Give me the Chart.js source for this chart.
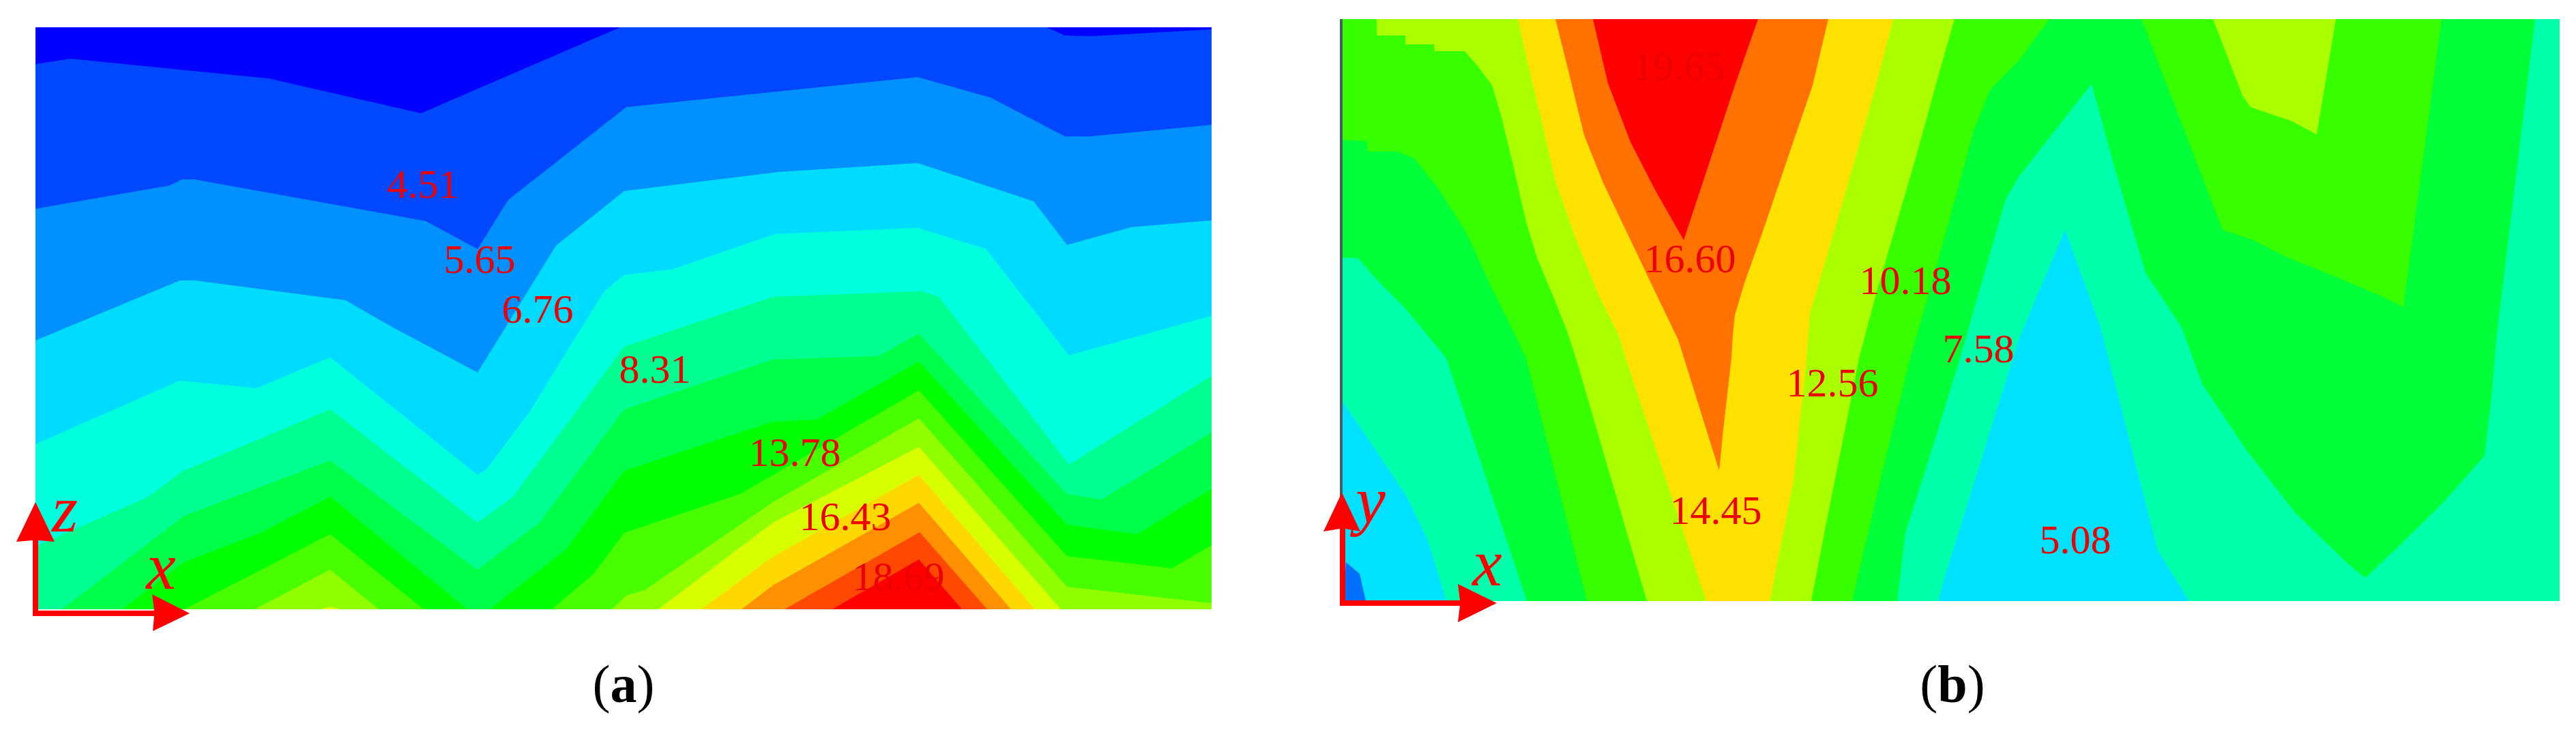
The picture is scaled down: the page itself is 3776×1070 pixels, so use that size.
<!DOCTYPE html>
<html>
<head>
<meta charset="utf-8">
<title>Contours</title>
<script src="https://cdn.jsdelivr.net/npm/chart.js@4/dist/chart.umd.min.js"></script>
<style>
html, body { margin: 0; background: #fff; }
body { position: relative; width: 3776px; height: 1070px; overflow: hidden; }
canvas { position: absolute; top: 0; }
.caption { position: absolute; top: 958px; font: 78px "Liberation Serif", serif; color: #000; transform: translateX(-50%); }
</style>
</head>
<body>
<canvas id="chartA" style="left:0" width="1888" height="960"></canvas>
<canvas id="chartB" style="left:1888px" width="1888" height="960"></canvas>
<div class="caption" style="left:914px">(<b>a</b>)</div>
<div class="caption" style="left:2862px">(<b>b</b>)</div>
<script>
/* all points are [x, y], y going down */

/*---------- panel a, contour lines from the top down ----------*/
const aFrame = [[52,40],[1776,40],[1776,893],[52,893]];
const aLine1 = [[52,94],[103,86],[394,115],[617,166],[909,40],[1534,40],[1561,52],[1600,53],[1776,43]];
const aLine2 = [[52,306],[248,272],[267,263],[285,263],[624,324],[700,365],[745,293],[918,157],[1345,113],[1452,143],[1561,200],[1597,200],[1776,183]];
const aLine3 = [[52,499],[264,411],[285,411],[506,440],[576,480],[700,546],[815,360],[915,280],[1142,252],[1345,239],[1515,295],[1564,359],[1658,333],[1776,323]];
const aLine4 = [[52,651],[264,558],[376,569],[484,524],[700,696],[712,689],[776,604],[885,428],[915,403],[985,395],[1136,343],[1345,334],[1445,365],[1567,521],[1776,463]];
const aLine5 = [[52,801],[218,728],[267,691],[484,600],[700,766],[752,728],[915,508],[1133,435],[1351,427],[1376,435],[1567,681],[1776,551]];
const aLine6 = [[91,893],[270,756],[484,675],[700,835],[791,766],[915,600],[1133,527],[1288,522],[1347,489],[1564,724],[1615,732],[1776,634]];
const aLine7 = [[179,893],[270,824],[382,781],[484,728],[685,893],[718,893],[830,805],[915,690],[1133,618],[1197,615],[1347,530],[1564,769],[1667,783],[1776,717]];
const aLine8 = [[270,893],[484,783],[621,893],[809,893],[870,841],[915,781],[1085,724],[1347,572],[1564,815],[1718,833],[1776,799]];
const aLine9 = [[373,893],[484,835],[555,893],[897,893],[918,873],[945,865],[1133,736],[1347,613],[1564,860],[1776,884]];
const aLine10 = [[470,893],[484,889],[498,893],[965,893],[1133,766],[1347,655],[1555,893]];
const aLine11 = [[1028,893],[1133,816],[1347,696],[1517,893]];
const aLine12 = [[1087,893],[1133,858],[1347,737],[1482,893]];
const aLine13 = [[1150,893],[1348,780],[1447,893]];
const aLine14 = [[1220,893],[1347,820],[1410,893]];
const aLines = [aLine1, aLine2, aLine3, aLine4, aLine5, aLine6, aLine7, aLine8, aLine9, aLine10, aLine11, aLine12, aLine13, aLine14];
const aColors = ['#0000ff','#0048ff','#0090ff','#00dcff','#00ffdc','#00ff90','#00ff48','#00ff00','#48ff00','#90ff00','#d8ff00','#ffd800','#ff9000','#ff4800','#ff0000'];

const aTexts = ['4.51','5.65','6.76','8.31','13.78','16.43','18.69'];
const aTextPos = [[620,290],[703,400],[788,473],[960,561],[1165,683],[1239,777],[1317,865]];

/*---------- panel b, regions painted one over the other ----------*/
const bFrame = [[1968,28],[3752,28],[3752,881],[1968,881]];
const bCyanLeft = [[1968,589],[2017,660],[2062,728],[2093,792],[2120,881],[1968,881]];
const bBlueCorner = [[1973,824],[1993,841],[2002,881],[1969,881]];
const bGreen = [[1968,378],[1968,28],[3716,28],[3659,498],[3653,574],[3642,668],[3582,736],[3517,800],[3467,847],[3441,826],[3364,751],[3293,660],[3228,563],[3198,480],[3145,400],[3098,240],[3066,123],[2960,258],[2940,292],[2873,525],[2829,668],[2793,781],[2781,881],[2238,881],[2120,525],[2093,492],[2060,452],[2020,412],[1990,378]];
const bCyanMid = [[3027,337],[2959,498],[2850,848],[2841,881],[3209,881],[3163,807],[3079,480]];
const bLime = [[1968,28],[3004,28],[2960,88],[2917,132],[2893,192],[2843,375],[2800,525],[2756,705],[2715,881],[2326,881],[2237,525],[2213,475],[2180,408],[2150,342],[2107,275],[2073,232],[2047,222],[2005,222],[2003,207],[1968,205]];
const bLimeRight = [[3139,28],[3579,28],[3523,450],[3488,433],[3417,403],[3352,377],[3305,353],[3258,337]];
const bYellowGreen = [[2018,28],[2865,28],[2843,105],[2810,225],[2770,362],[2747,442],[2725,525],[2708,612],[2678,762],[2655,881],[2414,881],[2310,525],[2297,485],[2277,435],[2253,378],[2237,325],[2217,238],[2200,168],[2187,125],[2167,98],[2147,75],[2103,75],[2102,65],[2060,65],[2060,52],[2018,52]];
const bYellowGreenRight = [[3244,28],[3424,28],[3396,197],[3358,177],[3328,167],[3299,157],[3287,140]];
const bYellow = [[2225,28],[2775,28],[2747,135],[2707,275],[2673,392],[2653,458],[2648,525],[2629,705],[2594,881],[2501,881],[2383,525],[2373,492],[2343,432],[2307,342],[2280,265],[2260,178],[2240,95]];
const bOrange = [[2280,28],[2680,28],[2657,125],[2617,242],[2583,342],[2557,415],[2543,462],[2540,492],[2538,525],[2526,630],[2520,690],[2460,498],[2433,442],[2393,358],[2350,268],[2322,198],[2300,108]];
const bRed = [[2335,28],[2577,28],[2543,125],[2510,225],[2468,352],[2427,280],[2390,208],[2357,122]];
const bRegions = [bFrame, bCyanLeft, bBlueCorner, bGreen, bCyanMid, bLime, bLimeRight, bYellowGreen, bYellowGreenRight, bYellow, bOrange, bRed];
const bColors = ['#00ffaa','#00e1ff','#0070ff','#00ff38','#00e1ff','#38ff00','#38ff00','#aaff00','#aaff00','#ffe100','#ff7100','#ff0000'];

const bTexts = ['19.65','16.60','10.18','12.56','7.58','14.45','5.08'];
const bTextPos = [[2461,117],[2477,399],[2793,431],[2686,581],[2900,531],[2515,768],[3042,811]];

/*---------- the x/z and x/y arrows ----------*/
const aArrowUp = [[48,903],[48,792],[24,794],[52,736],[80,794],[56,792],[56,903]];
const aArrowRight = [[48,903],[48,895],[226,895],[223,871],[278,899],[224,925],[226,903]];
const bArrowUp = [[1964,888],[1964,775],[1940,779],[1967,722],[1994,779],[1972,775],[1972,888]];
const bArrowRight = [[1964,888],[1964,880],[2140,880],[2137,856],[2194,884],[2137,912],[2140,888]];
const bAxisLine = [[1966,28],[1966,775]];

function toPoints(list)
{
    return list.map(p => ({x: p[0], y: p[1]}));
}

function shape(list, color, index)
{
    return {
        data: toPoints(list),
        showLine: true,
        fill: 'shape',
        backgroundColor: color,
        borderWidth: 0,
        pointRadius: 0,
        tension: 0,
        order: 100 - index
    };
}

// each contour line is closed along the bottom edge, later ones paint over earlier ones
function bandsFromLines(frame, lines, colors)
{
    const bl = frame[3], br = frame[2];
    const sets = [shape(frame, colors[0], 0)];
    lines.forEach((line, i) => {
        sets.push(shape(line.concat([br, bl]), colors[i + 1], i + 1));
    });
    return sets;
}

const labelsPlugin = {
    id: 'contourLabels',
    afterDatasetsDraw(chart, args, opts) {
        const ctx = chart.ctx;
        const {x, y} = chart.scales;
        ctx.save();
        ctx.textAlign = 'center';
        ctx.textBaseline = 'alphabetic';
        opts.groups.forEach(g => {
            ctx.font = g.font;
            ctx.fillStyle = g.color;
            g.texts.forEach((t, i) => {
                ctx.fillText(t, x.getPixelForValue(g.pos[i][0]), y.getPixelForValue(g.pos[i][1]));
            });
        });
        ctx.restore();
    }
};

function makeChart(id, left, datasets, texts, textPos, axisTexts, axisPos)
{
    return new Chart(document.getElementById(id), {
        type: 'scatter',
        data: {datasets: datasets},
        options: {
            responsive: false,
            animation: false,
            layout: {padding: 0},
            plugins: {
                legend: {display: false},
                tooltip: {enabled: false},
                contourLabels: {
                    groups: [
                        {texts: texts, pos: textPos, font: '60px "Liberation Serif"', color: 'rgb(236,0,0)'},
                        {texts: axisTexts, pos: axisPos, font: 'italic 98px "Liberation Serif"', color: '#ff0000'}
                    ]
                }
            },
            scales: {
                x: {type: 'linear', display: false, min: left, max: left + 1888},
                y: {type: 'linear', display: false, min: 0, max: 960, reverse: true}
            }
        },
        plugins: [labelsPlugin]
    });
}

const aSets = bandsFromLines(aFrame, aLines, aColors);
[aArrowUp, aArrowRight].forEach((a, i) => aSets.push(shape(a, '#ff0000', 50 + i)));

const bSets = bRegions.map((r, i) => shape(r, bColors[i], i));
bSets.push(Object.assign(shape(bAxisLine, '#4a6060', 49), {fill: false, borderWidth: 4, borderColor: '#4a6060'}));
[bArrowUp, bArrowRight].forEach((a, i) => bSets.push(shape(a, '#ff0000', 50 + i)));

makeChart('chartA', 0, aSets, aTexts, aTextPos, ['z','x'], [[95,779],[236,863]]);
makeChart('chartB', 1888, bSets, bTexts, bTextPos, ['y','x'], [[2009,766],[2180,858]]);
</script>
</body>
</html>
